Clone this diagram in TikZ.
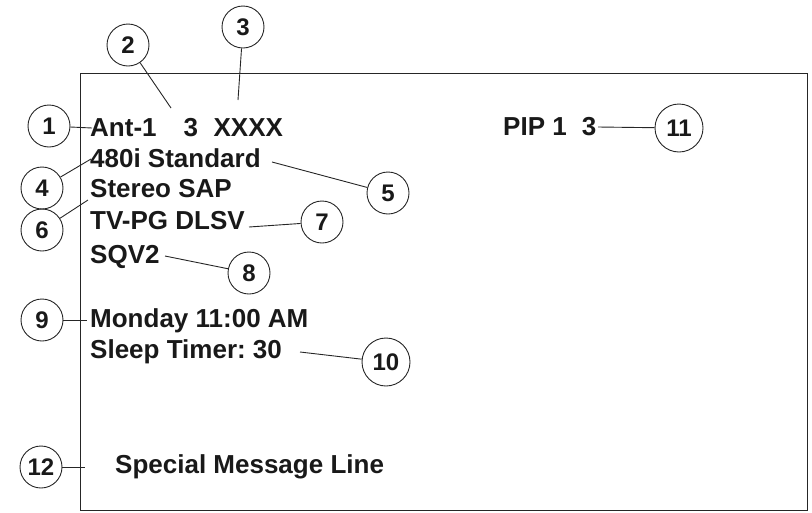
\documentclass[tikz,border=0pt]{standalone}
\usepackage{fontspec}
\setmainfont{Liberation Sans}
\frenchspacing
\begin{document}
\begin{tikzpicture}[x=1pt,y=-1pt,
  lbl/.style={anchor=base west,inner sep=0pt,font=\fontsize{26}{30}\selectfont\bfseries,text=black!90},
  num/.style={circle,draw=black!85,line width=0.9pt,minimum size=42pt,inner sep=0pt,font=\fontsize{24}{28}\selectfont\bfseries,text=black!90},
  numb/.style={num,minimum size=48pt},
  lead/.style={draw=black!85,line width=0.9pt}]
\useasboundingbox (0,0) rectangle (812,512);
\node[draw=black!85,line width=1.2pt,minimum width=727pt,minimum height=437pt,inner sep=0pt,anchor=north west] (screen) at (80,73) {};
% texts
\node[lbl] (t1) at (90,136) {Ant-1\hspace{27pt}3\hspace{15.5pt}XXXX};
\node[lbl] (t4) at (90,167) {480i Standard};
\node[lbl] (t6) at (90,197) {Stereo SAP};
\node[lbl] (t7) at (90,229) {TV-PG DLSV};
\node[lbl] (t8) at (90,263) {SQV2};
\node[lbl] (t9) at (90,327) {Monday 11:00 AM};
\node[lbl] (t10) at (90,358) {Sleep Timer: 30};
\node[lbl] (t12) at (115,473) {Special Message Line};
\node[lbl] (t11) at (503,135) {PIP 1\hspace{15pt}3};
% circles
\node[num] (c1) at (49,126) {1};
\node[num] (c2) at (128,45) {2};
\node[num] (c3) at (243,27) {3};
\node[num] (c4) at (42,188) {4};
\node[num] (c5) at (388,193) {5};
\node[num] (c6) at (42,230) {6};
\node[num] (c7) at (322,222) {7};
\node[num] (c8) at (249,273) {8};
\node[num] (c9) at (42,320) {9};
\node[numb] (c10) at (386,362) {10};
\node[numb] (c11) at (679,128) {11};
\node[num] (c12) at (41,467) {12};
% leader ends
\coordinate (e1) at (92,128);
\coordinate (e2) at (171,108);
\coordinate (e3) at (238,100);
\coordinate (e4) at (91,159);
\coordinate (e5) at (272,162);
\coordinate (e6) at (88,200);
\coordinate (e7) at (249,227);
\coordinate (e8) at (165,256);
\coordinate (e9) at (87,320);
\coordinate (e10) at (300,352);
\coordinate (e11) at (598,127);
\coordinate (e12) at (85,467);
\draw[lead] (c1) -- (e1);
\draw[lead] (c2) -- (e2);
\draw[lead] (c3) -- (e3);
\draw[lead] (c4) -- (e4);
\draw[lead] (c5) -- (e5);
\draw[lead] (c6) -- (e6);
\draw[lead] (c7) -- (e7);
\draw[lead] (c8) -- (e8);
\draw[lead] (c9) -- (e9);
\draw[lead] (c10) -- (e10);
\draw[lead] (c11) -- (e11);
\draw[lead] (c12) -- (e12);
\end{tikzpicture}
\end{document}
